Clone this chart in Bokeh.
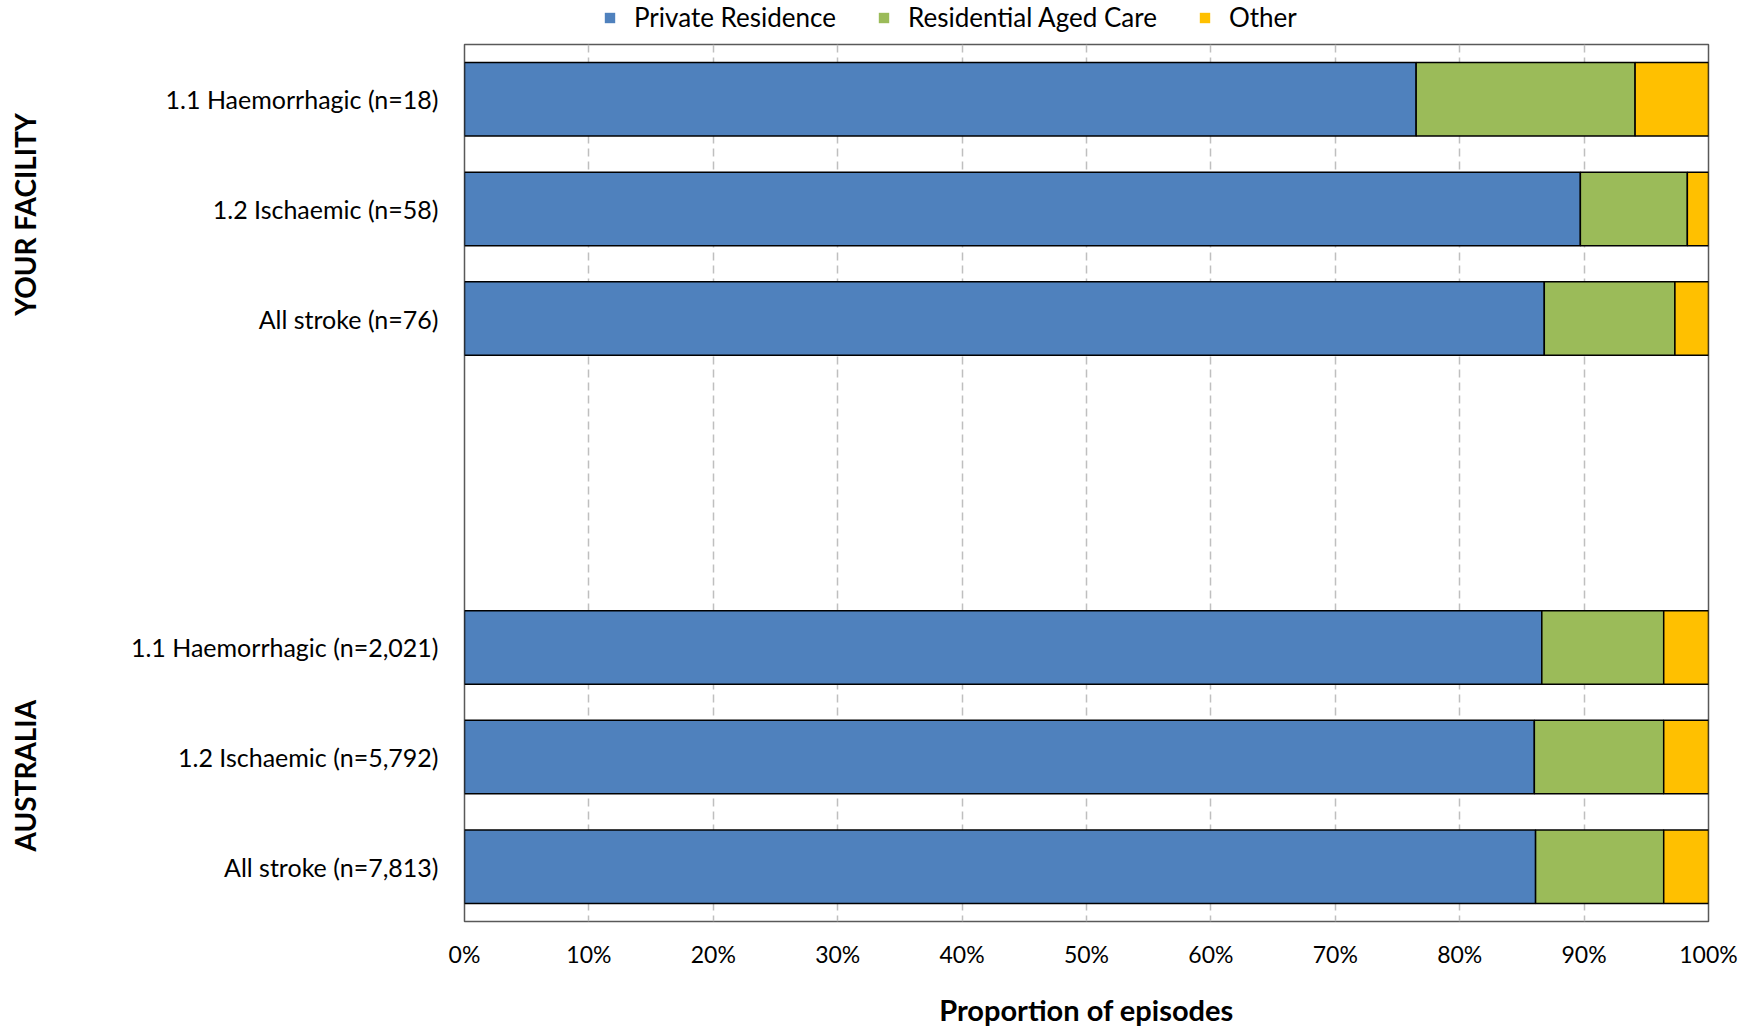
import math
from bokeh.plotting import figure
from bokeh.layouts import column
from bokeh.models import (Range1d, FixedTicker, Legend, LegendItem, LinearAxis, ColumnDataSource)
from bokeh.embed import file_html
from bokeh.resources import INLINE

FONT = "Lato"

categories = ["1.1 Haemorrhagic (n=18)", "1.2 Ischaemic (n=58)", "All stroke (n=76)",
              "1.1 Haemorrhagic (n=2,021)", "1.2 Ischaemic (n=5,792)", "All stroke (n=7,813)"]
group_names = ["YOUR FACILITY", "AUSTRALIA"]
series_names = ["Private Residence", "Residential Aged Care", "Other"]
private_residence = [76.5, 89.7, 86.8, 86.6, 86.0, 86.1]
residential_aged_care = [17.6, 8.6, 10.5, 9.8, 10.4, 10.3]
other = [5.9, 1.7, 2.7, 3.6, 3.6, 3.6]
x_ticks = [0, 10, 20, 30, 40, 50, 60, 70, 80, 90, 100]
x_tick_labels = ["0%", "10%", "20%", "30%", "40%", "50%", "60%", "70%", "80%", "90%", "100%"]

colors = ["#4F81BD", "#9BBB59", "#FFC000"]

# slot positions: 3 facility rows, 2 blank slots, 3 Australia rows
slots = [0, 1, 2, 5, 6, 7]
ypos = [s + 0.5 for s in slots]
group_pos = [1.55, 6.67]

W = 1750

# ---------- legend strip ----------
lf = figure(width=W, height=36, output_backend="svg", toolbar_location=None,
            x_range=Range1d(0, 1), y_range=Range1d(0, 1), min_border=0)
lf.axis.visible = False
lf.grid.visible = False
lf.outline_line_color = None
lf.background_fill_color = "white"
lf.border_fill_color = "white"
items = []
for name, col in zip(series_names, colors):
    r = lf.hbar(y=[float("nan")], left=[0], right=[0.1], height=0.1, fill_color=col, line_color=None)
    items.append(LegendItem(label=name, renderers=[r]))
legend = Legend(items=items, orientation="horizontal", location=(139, 3),
                border_line_color=None, background_fill_alpha=0,
                label_text_font=FONT, label_text_font_size="26px", label_text_color="black",
                glyph_width=13, glyph_height=13, label_standoff=18, spacing=41,
                padding=0, margin=0)
lf.add_layout(legend)

# ---------- main chart ----------
p = figure(width=W, height=993, output_backend="svg", toolbar_location=None,
           x_range=Range1d(0, 100), y_range=Range1d(8, 0),
           min_border_left=464, min_border_right=42, min_border_top=8, min_border_bottom=108)

p.background_fill_color = "white"
p.border_fill_color = "white"
p.outline_line_color = "#595959"
p.outline_line_width = 1.5

# grid
p.ygrid.grid_line_color = None
p.xgrid.ticker = FixedTicker(ticks=x_ticks[1:-1])
p.xgrid.grid_line_color = "#BFBFBF"
p.xgrid.grid_line_width = 1.5
p.xgrid.grid_line_dash = "8 5"

# stacked bars
left = [0.0] * len(categories)
for vals, col in zip([private_residence, residential_aged_care, other], colors):
    right = [l + v for l, v in zip(left, vals)]
    src = ColumnDataSource(dict(y=ypos, left=left, right=right))
    p.hbar(y="y", left="left", right="right", height=0.67, source=src,
           fill_color=col, line_color="black", line_width=1.5)
    left = right

# x axis
p.xaxis.ticker = FixedTicker(ticks=x_ticks)
p.xaxis.major_label_overrides = {t: l for t, l in zip(x_ticks, x_tick_labels)}
p.xaxis.axis_line_color = None
p.xaxis.major_tick_line_color = None
p.xaxis.minor_tick_line_color = None
p.xaxis.major_tick_out = 0
p.xaxis.major_tick_in = 0
p.xaxis.major_label_standoff = 18
p.xaxis.major_label_text_font = FONT
p.xaxis.major_label_text_font_size = "23px"
p.xaxis.major_label_text_color = "black"
p.xaxis.axis_label = "Proportion of episodes"
p.xaxis.axis_label_text_font = FONT
p.xaxis.axis_label_text_font_style = "bold"
p.xaxis.axis_label_text_font_size = "29px"
p.xaxis.axis_label_text_color = "black"
p.xaxis.axis_label_standoff = 21

# y axis (category labels)
yax = p.yaxis[0]
yax.ticker = FixedTicker(ticks=ypos)
yax.major_label_overrides = {y: c for y, c in zip(ypos, categories)}
yax.axis_line_color = None
yax.major_tick_line_color = None
yax.minor_tick_line_color = None
yax.major_tick_out = 0
yax.major_tick_in = 0
yax.major_label_standoff = 26
yax.major_label_text_font = FONT
yax.major_label_text_font_size = "25px"
yax.major_label_text_color = "black"

# outer axis with the group labels
gax = LinearAxis(ticker=FixedTicker(ticks=group_pos),
                 major_label_overrides={g: n for g, n in zip(group_pos, group_names)},
                 major_label_orientation="parallel",
                 axis_line_color=None, major_tick_line_color=None, minor_tick_line_color=None,
                 major_tick_out=0, major_tick_in=0, major_label_standoff=85,
                 major_label_text_font=FONT, major_label_text_font_style="bold",
                 major_label_text_font_size="28px", major_label_text_color="black")
p.add_layout(gax, "left")

layout = column(lf, p, spacing=0)
open("out.html", "w").write(file_html(layout, INLINE))
